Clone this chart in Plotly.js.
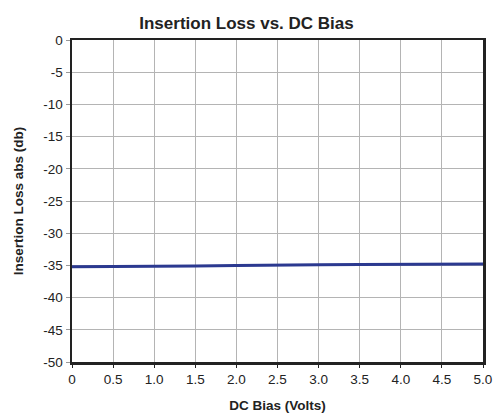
<!DOCTYPE html>
<html><head><meta charset="utf-8">
<script src="https://cdn.plot.ly/plotly-3.0.1.min.js"></script>
<style>html,body{margin:0;padding:0;background:#fff}</style>
</head><body><div id="chart" style="width:493px;height:418px"></div>
<script>
const biasVolts = [0, 0.5, 1.0, 1.5, 2.0, 2.5, 3.0, 3.5, 4.0, 4.5, 5.0];
const insertionLoss = [-35.2, -35.2, -35.2, -35.1, -35.0, -34.9, -34.9, -34.85, -34.8, -34.8, -34.8];
const xTickVals = [0, 0.5, 1, 1.5, 2, 2.5, 3, 3.5, 4, 4.5, 5];
const xTickText = ['0', '0.5', '1.0', '1.5', '2.0', '2.5', '3.0', '3.5', '4.0', '4.5', '5.0'];
const yTickVals = [0, -5, -10, -15, -20, -25, -30, -35, -40, -45, -50];
const yTickText = ['0', '-5', '-10', '-15', '-20', '-25', '-30', '-35', '-40', '-45', '-50'];

const fam = 'Liberation Sans, Arial, sans-serif';
Plotly.newPlot('chart', [{
  x: biasVolts, y: insertionLoss, type: 'scatter', mode: 'lines',
  line: {color: '#2b3990', width: 3}
}], {
  width: 493, height: 418,
  margin: {l: 72, r: 10, t: 40, b: 56},
  paper_bgcolor: '#fff', plot_bgcolor: '#fff',
  font: {family: fam, color: '#222', size: 13},
  showlegend: false,
  title: {text: '<b>Insertion Loss vs. DC Bias</b>', font: {size: 17, family: fam, color: '#222'}, x: 0.5, xanchor: 'center', y: 0.944, yanchor: 'middle'},
  xaxis: {
    range: [0, 5], tickvals: xTickVals, ticktext: xTickText,
    showgrid: true, gridcolor: '#b4b4b4', gridwidth: 1,
    showline: true, linecolor: '#222', linewidth: 2.5, mirror: true,
    ticks: 'outside', ticklen: 3, tickcolor: '#222',
    tickfont: {size: 13.5, family: fam, color: '#222'},
    zeroline: false,
    title: {text: '<b>DC Bias (Volts)</b>', font: {size: 13.5, family: fam, color: '#222'}, standoff: 15}
  },
  yaxis: {
    range: [-50, 0], tickvals: yTickVals, ticktext: yTickText,
    showgrid: true, gridcolor: '#b4b4b4', gridwidth: 1,
    showline: true, linecolor: '#222', linewidth: 2.5, mirror: true,
    ticks: 'outside', ticklen: 4, tickcolor: '#999',
    tickfont: {size: 13.5, family: fam, color: '#222'},
    zeroline: false,
    title: {text: '<b>Insertion Loss abs (db)</b>', font: {size: 13.5, family: fam, color: '#222'}, standoff: 17}
  }
}, {displayModeBar: false, staticPlot: true});
</script></body></html>
